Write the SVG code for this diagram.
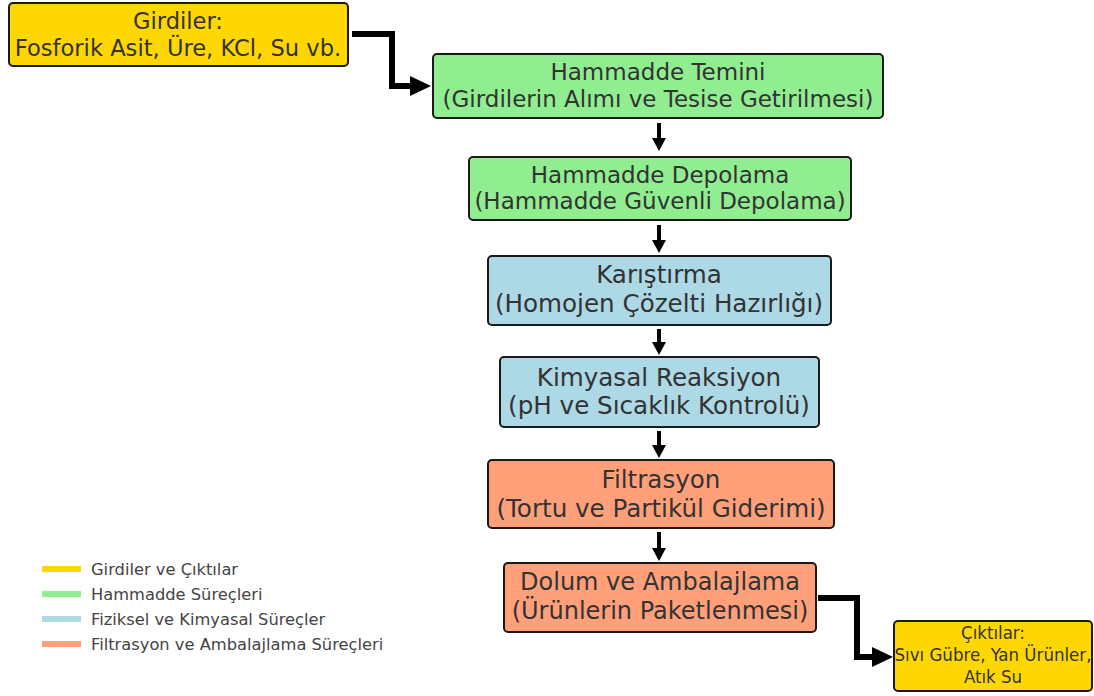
<svg xmlns="http://www.w3.org/2000/svg" width="1094" height="696" viewBox="0 0 1094 696">
<style>
.box{stroke:#1a1a1a;stroke-width:2}
.t{font-family:"DejaVu Sans",sans-serif;font-size:23px;fill:#333;text-anchor:middle}
.t2{font-family:"DejaVu Sans",sans-serif;font-size:24.6px;fill:#333;text-anchor:middle}
.tc{font-family:"DejaVu Sans Condensed","DejaVu Sans",sans-serif;font-size:18.5px;fill:#333;text-anchor:middle}
.lg{font-family:"DejaVu Sans",sans-serif;font-size:16.3px;fill:#444}
.c{fill:none;stroke:#000;stroke-width:4}
.ce{fill:none;stroke:#000;stroke-width:6}
</style>
<defs>
<marker id="ah" markerWidth="14" markerHeight="14" refX="0" refY="7" orient="auto" markerUnits="userSpaceOnUse">
<path d="M0,0 L13,7 L0,14 Z" fill="#000"/>
</marker>
<marker id="ahb" markerWidth="22" markerHeight="22" refX="0" refY="11" orient="auto" markerUnits="userSpaceOnUse">
<path d="M0,1 L21,11 L0,21 Z" fill="#000"/>
</marker>
</defs>
<rect width="1094" height="696" fill="#fff"/>
<g id="connectors">
<path class="ce" d="M352,34 H392 V86 H410" marker-end="url(#ahb)"/>
<path class="c" d="M659,123 V138" marker-end="url(#ah)"/>
<path class="c" d="M659,225 V240" marker-end="url(#ah)"/>
<path class="c" d="M659,329 V342" marker-end="url(#ah)"/>
<path class="c" d="M659,431 V445" marker-end="url(#ah)"/>
<path class="c" d="M659,532 V548" marker-end="url(#ah)"/>
<path class="ce" d="M818,598 H857 V657 H872" marker-end="url(#ahb)"/>
</g>
<g id="girdiler">
<rect class="box" x="9" y="3" width="339" height="63" rx="4" fill="#FFD700"/>
<text class="t" x="178" y="29" style="font-size:22.6px">Girdiler:</text>
<text class="t" x="178" y="56" style="font-size:22.6px">Fosforik Asit, Üre, KCl, Su vb.</text>
</g>
<g id="temin">
<rect class="box" x="433" y="54" width="450" height="64" rx="4" fill="#90EE90"/>
<text class="t" x="658" y="80">Hammadde Temini</text>
<text class="t" x="658" y="107">(Girdilerin Alımı ve Tesise Getirilmesi)</text>
</g>
<g id="depolama">
<rect class="box" x="469" y="157" width="382" height="63" rx="4" fill="#90EE90"/>
<text class="t" x="660" y="183">Hammadde Depolama</text>
<text class="t" x="660" y="209">(Hammadde Güvenli Depolama)</text>
</g>
<g id="karistirma">
<rect class="box" x="488" y="256" width="343" height="69" rx="4" fill="#ADD8E6"/>
<text class="t2" x="659" y="283">Karıştırma</text>
<text class="t2" x="659" y="312">(Homojen Çözelti Hazırlığı)</text>
</g>
<g id="reaksiyon">
<rect class="box" x="500" y="357" width="319" height="70" rx="4" fill="#ADD8E6"/>
<text class="t2" x="659" y="386">Kimyasal Reaksiyon</text>
<text class="t2" x="659" y="414">(pH ve Sıcaklık Kontrolü)</text>
</g>
<g id="filtrasyon">
<rect class="box" x="488" y="460" width="346" height="68" rx="4" fill="#FFA07A"/>
<text class="t2" x="661" y="488">Filtrasyon</text>
<text class="t2" x="661" y="517">(Tortu ve Partikül Giderimi)</text>
</g>
<g id="dolum">
<rect class="box" x="504" y="563" width="312" height="69" rx="4" fill="#FFA07A"/>
<text class="t2" x="660" y="590" style="font-size:24px">Dolum ve Ambalajlama</text>
<text class="t2" x="660" y="619" style="font-size:24px">(Ürünlerin Paketlenmesi)</text>
</g>
<g id="ciktilar">
<rect class="box" x="894" y="621" width="198" height="70" rx="4" fill="#FFD700"/>
<text class="tc" x="993" y="639">Çıktılar:</text>
<text class="tc" x="993" y="661">Sıvı Gübre, Yan Ürünler,</text>
<text class="tc" x="993" y="683">Atık Su</text>
</g>
<g id="legend">
<line x1="42" y1="569" x2="81" y2="569" stroke="#FFD700" stroke-width="6"/>
<line x1="42" y1="594" x2="81" y2="594" stroke="#90EE90" stroke-width="6"/>
<line x1="42" y1="619" x2="81" y2="619" stroke="#ADD8E6" stroke-width="6"/>
<line x1="42" y1="644" x2="81" y2="644" stroke="#FFA07A" stroke-width="6"/>
<text class="lg" x="91" y="575">Girdiler ve Çıktılar</text>
<text class="lg" x="91" y="600">Hammadde Süreçleri</text>
<text class="lg" x="91" y="625">Fiziksel ve Kimyasal Süreçler</text>
<text class="lg" x="91" y="650">Filtrasyon ve Ambalajlama Süreçleri</text>
</g>
</svg>
